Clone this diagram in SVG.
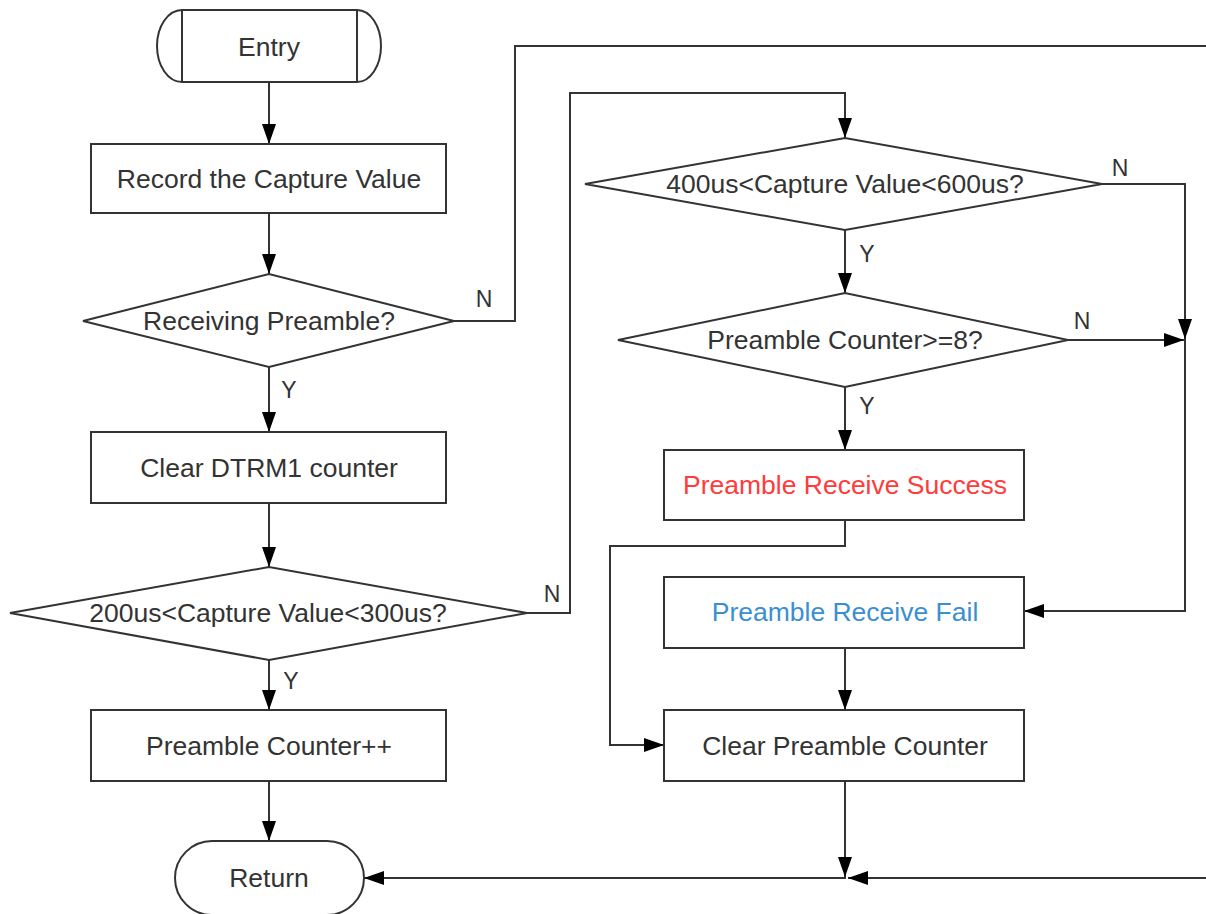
<svg xmlns="http://www.w3.org/2000/svg" width="1206" height="914" viewBox="0 0 1206 914">
<style>
.s{fill:#fff;stroke:#333;stroke-width:2}
.t{font-family:"Liberation Sans",Arial,sans-serif;font-size:26.5px;fill:#333;text-anchor:middle}
.l{font-family:"Liberation Sans",Arial,sans-serif;font-size:23px;fill:#333;text-anchor:middle}
.c{fill:none;stroke:#333;stroke-width:2}
.a{marker-end:url(#arr)}
</style>
<defs>
<marker id="arr" markerWidth="20" markerHeight="14" refX="20" refY="7" orient="auto" markerUnits="userSpaceOnUse"><path d="M0,0 L20,7 L0,14 Z" fill="#000"/></marker>
</defs>
<rect width="1206" height="914" fill="#fff"/>
<g id="connectors">
<path class="c a" d="M269,82 V144"/>
<path class="c a" d="M269,213 V274"/>
<path class="c a" d="M269,367 V432"/>
<path class="c a" d="M269,503 V567"/>
<path class="c a" d="M269,660 V710"/>
<path class="c a" d="M269,781 V841"/>
<path class="c" d="M454,321 H515 V46 H1206"/>
<path class="c a" d="M527,613 H570 V93 H845 V138"/>
<path class="c a" d="M845,230 V293"/>
<path class="c a" d="M845,387 V450"/>
<path class="c a" d="M1102,184 H1185 V339"/>
<path class="c a" d="M1185,339 V611 H1024"/>
<path class="c a" d="M1068,340 H1184"/>
<path class="c a" d="M845,520 V546 H610 V745 H664"/>
<path class="c a" d="M845,648 V710"/>
<path class="c a" d="M845,781 V877"/>
<path class="c a" d="M846,878 H364"/>
<path class="c a" d="M1206,878 H848"/>
</g>
<g id="labels">
<text class="l" x="484" y="307">N</text>
<text class="l" x="289" y="398">Y</text>
<text class="l" x="552" y="602">N</text>
<text class="l" x="291" y="689">Y</text>
<text class="l" x="1120" y="176">N</text>
<text class="l" x="867" y="262">Y</text>
<text class="l" x="1082" y="329">N</text>
<text class="l" x="867" y="414">Y</text>
</g>
<g id="entry">
<path class="s" d="M182,10 H357 A24,36 0 0 1 357,82 H182 A25,36 0 0 1 182,10 Z"/>
<path class="c" d="M182,10 V82 M357,10 V82"/>
<text class="t" x="269" y="56">Entry</text>
</g>
<g id="record">
<rect class="s" x="91" y="144" width="355" height="69"/>
<text class="t" x="269" y="188">Record the Capture Value</text>
</g>
<g id="receiving">
<path class="s" d="M83,321 L269,274 L454,321 L269,367 Z"/>
<text class="t" x="269" y="330">Receiving Preamble?</text>
</g>
<g id="clear-dtrm1">
<rect class="s" x="91" y="432" width="355" height="71"/>
<text class="t" x="269" y="477">Clear DTRM1 counter</text>
</g>
<g id="range200">
<path class="s" d="M10,613 L269,567 L527,613 L269,660 Z"/>
<text class="t" x="268" y="622">200us&lt;Capture Value&lt;300us?</text>
</g>
<g id="counter-inc">
<rect class="s" x="91" y="710" width="355" height="71"/>
<text class="t" x="269" y="755">Preamble Counter++</text>
</g>
<g id="return">
<rect class="s" x="175" y="841" width="189" height="74" rx="37" ry="37"/>
<text class="t" x="269" y="887">Return</text>
</g>
<g id="range400">
<path class="s" d="M585,184 L845,138 L1102,184 L845,230 Z"/>
<text class="t" x="845" y="193">400us&lt;Capture Value&lt;600us?</text>
</g>
<g id="counter-check">
<path class="s" d="M618,340 L845,293 L1068,340 L845,387 Z"/>
<text class="t" x="845" y="349">Preamble Counter&gt;=8?</text>
</g>
<g id="success">
<rect class="s" x="664" y="450" width="360" height="70"/>
<text class="t" x="845" y="494" style="fill:#ff3b3b">Preamble Receive Success</text>
</g>
<g id="fail">
<rect class="s" x="664" y="577" width="360" height="71"/>
<text class="t" x="845" y="621" style="fill:#3a8fd0">Preamble Receive Fail</text>
</g>
<g id="clear-preamble">
<rect class="s" x="664" y="710" width="360" height="71"/>
<text class="t" x="845" y="755">Clear Preamble Counter</text>
</g>
</svg>
